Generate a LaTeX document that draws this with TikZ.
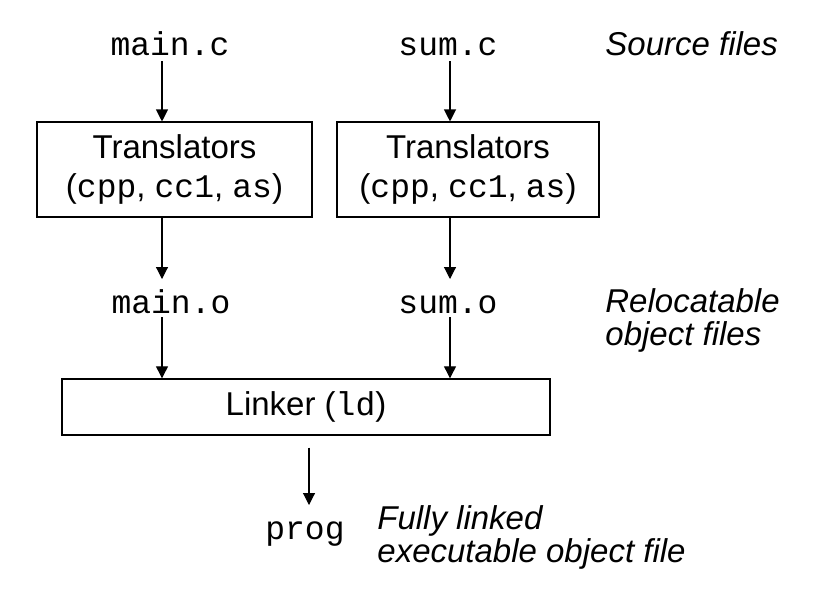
\documentclass[tikz,border=0pt]{standalone}
\usepackage{fontspec}
\setmainfont{Liberation Sans}
\setmonofont{Liberation Mono}
\usetikzlibrary{arrows.meta}

\begin{document}
\begin{tikzpicture}[x=0.5pt,y=-0.5pt,
	every node/.style={font=\fontsize{16.5}{19.5}\selectfont},
	file/.style={anchor=base, inner sep=0pt, font=\fontsize{16.5}{19.5}\selectfont\ttfamily},
	note/.style={anchor=base west, inner sep=0pt, align=left, font=\fontsize{16.5}{16.5}\selectfont\itshape},
	tool/.style={draw, line width=0.55pt, align=center, inner sep=0pt},
	arr/.style={-{Triangle[length=6pt,width=6pt]}, line width=0.55pt}]
	\useasboundingbox (0,0) rectangle (818,602);
	% columns of the arrows
	\coordinate (colA) at (162,0);
	\coordinate (colB) at (450,0);
	\coordinate (colC) at (309,0);
	% sources
	\node[file] (mainc) at (170,55) {main.c};
	\node[file] (sumc) at (448,55) {sum.c};
	\node[note] (srcnote) at (605,55) {Source files};
	% translators
	\node[tool, minimum width=137.5pt, minimum height=47.5pt] (trans1) at (174.5,169.5) {Translators\\(\texttt{cpp}, \texttt{cc1}, \texttt{as})};
	\node[tool, minimum width=131pt, minimum height=47.5pt] (trans2) at (468,169.5) {Translators\\(\texttt{cpp}, \texttt{cc1}, \texttt{as})};
	% object files
	\node[file] (maino) at (171,313) {main.o};
	\node[file] (sumo) at (448,313) {sum.o};
	\node[note] (objnote) at (605,345) {Relocatable\\object files};
	% linker
	\node[tool, line width=0.7pt, minimum width=244pt, minimum height=28pt] (linker) at (306,407) {Linker (\texttt{ld})};
	% executable
	\node[file] (prog) at (305,539) {prog};
	\node[note] (exenote) at (377,562) {Fully linked\\executable object file};
	% arrows
	\draw[arr] ([yshift=-3pt]mainc.base -| colA) -- (trans1.north -| colA);
	\draw[arr] ([yshift=-3pt]sumc.base -| colB) -- (trans2.north -| colB);
	\draw[arr] (trans1.south -| colA) -- ([yshift=17pt]maino.base -| colA);
	\draw[arr] (trans2.south -| colB) -- ([yshift=17pt]sumo.base -| colB);
	\draw[arr] ([yshift=-2pt]maino.base -| colA) -- (linker.north -| colA);
	\draw[arr] ([yshift=-2pt]sumo.base -| colB) -- (linker.north -| colB);
	\draw[arr] ([yshift=-6pt]linker.south -| colC) -- ([yshift=17pt]prog.base -| colC);
\end{tikzpicture}
\end{document}
